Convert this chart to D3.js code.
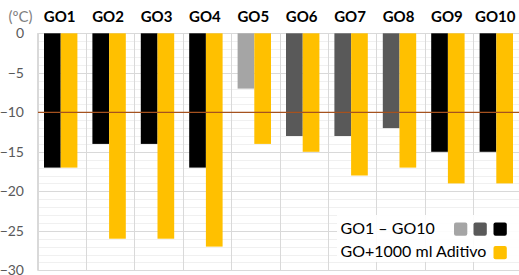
<!DOCTYPE html>
<html>
<head>
<meta charset="utf-8">
<script src="https://cdn.jsdelivr.net/npm/d3@7"></script>
<style>
  html, body { margin: 0; padding: 0; background: #fff; }
  svg { display: block; }
  text { font-family: Lato, "Open Sans", sans-serif; }
</style>
</head>
<body>
<script>
const categories = ["GO1","GO2","GO3","GO4","GO5","GO6","GO7","GO8","GO9","GO10"];
const baseValues = [-17,-14,-14,-17,-7,-13,-13,-12,-15,-15];
const baseShade  = ["black","black","black","black","light","dark","dark","dark","black","black"];
const additiveValues = [-17,-26,-26,-27,-14,-15,-18,-17,-19,-19];
const yTicks = [0,-5,-10,-15,-20,-25,-30];
const refLine = -10;
const legendLabels = ["GO1 \u2013 GO10", "GO+1000 ml Aditivo"];
const unitLabel = "(\u00BAC)";

const W = 519, H = 275;
const shadeColor = { light: "#a5a5a5", dark: "#595959", black: "#000000" };
const yellow = "#ffc000";

const svg = d3.select("body").append("svg").attr("width", W).attr("height", H);

const x0 = d3.scaleBand().domain(categories).range([37.5, 521.5]).paddingInner(0).paddingOuter(0);
const x1 = d3.scaleBand().domain(["base","add"]).range([6.5, 39.9]);
const y = d3.scaleLinear().domain([0, -30]).range([33.3, 270.3]);

// minor gridlines
const minor = d3.range(0, -31, -1).filter(v => v % 5 !== 0);
svg.append("g").selectAll("line").data(minor).join("line")
  .attr("x1", 37.5).attr("x2", W)
  .attr("y1", d => Math.round(y(d)) + 0.5).attr("y2", d => Math.round(y(d)) + 0.5)
  .attr("stroke", "#f0f0f0").attr("stroke-width", 1);

// major gridlines
svg.append("g").selectAll("line").data(yTicks).join("line")
  .attr("x1", 37.5).attr("x2", W)
  .attr("y1", d => Math.round(y(d)) + 0.5).attr("y2", d => Math.round(y(d)) + 0.5)
  .attr("stroke", "#d9d9d9").attr("stroke-width", 1);

// vertical gridlines
svg.append("g").selectAll("line").data(categories).join("line")
  .attr("x1", d => Math.round(x0(d)) + 0.5).attr("x2", d => Math.round(x0(d)) + 0.5)
  .attr("y1", y(0)).attr("y2", y(-30))
  .attr("stroke", "#d9d9d9").attr("stroke-width", 1);

// bars
const groups = svg.append("g").selectAll("g").data(categories).join("g")
  .attr("transform", d => `translate(${x0(d)},0)`);
groups.append("rect")
  .attr("x", x1("base")).attr("width", x1.bandwidth())
  .attr("y", y(0))
  .attr("height", (d, i) => y(baseValues[i]) - y(0))
  .attr("fill", (d, i) => shadeColor[baseShade[i]]);
groups.append("rect")
  .attr("x", x1("add")).attr("width", x1.bandwidth())
  .attr("y", y(0))
  .attr("height", (d, i) => y(additiveValues[i]) - y(0))
  .attr("fill", yellow);

// reference line
svg.append("line")
  .attr("x1", 37.5).attr("x2", W)
  .attr("y1", y(refLine)).attr("y2", y(refLine))
  .attr("stroke", "#a5521f").attr("stroke-width", 1.3);

// y axis
const yAxis = d3.axisLeft(y).tickValues(yTicks).tickSize(0).tickPadding(0).tickFormat(d3.format("d"));
const ya = svg.append("g").attr("transform", "translate(24,0)").call(yAxis);
ya.select(".domain").remove();
ya.selectAll("text").attr("font-size", 14).attr("fill", "#595959")
  .style("font-family", "Lato, 'Open Sans', sans-serif");
svg.append("line").attr("x1", 37.5).attr("x2", 37.5).attr("y1", y(0)).attr("y2", y(-30))
  .attr("stroke", "#d9d9d9");

// unit
svg.append("text").attr("x", 20.5).attr("y", 22).attr("text-anchor", "middle")
  .attr("font-size", 15).attr("fill", "#7f7f7f").text(unitLabel);

// category labels on top
svg.append("g").selectAll("text").data(categories).join("text")
  .attr("x", d => x0(d) + 23.2 - 1)
  .attr("y", 21.5)
  .attr("text-anchor", "middle")
  .attr("font-size", 15).attr("font-weight", "bold").attr("fill", "#000")
  .text(d => d);

// legend
const lg = svg.append("g");
lg.append("rect").attr("x", 337).attr("y", 215).attr("width", 182).attr("height", 47)
  .attr("fill", "#fff").attr("fill-opacity", 0.92);
lg.append("text").attr("x", 340.5).attr("y", 234).attr("font-size", 16).attr("fill", "#000")
  .text(legendLabels[0]);
lg.append("text").attr("x", 340.5).attr("y", 257).attr("font-size", 16).attr("fill", "#000")
  .text(legendLabels[1]);
const sw = [["light",454],["dark",473.5],["black",493.5]];
lg.selectAll("rect.sw").data(sw).join("rect").attr("class","sw")
  .attr("x", d => d[1]).attr("y", 222.5).attr("width", 13.3).attr("height", 13.3)
  .attr("rx", 2).attr("fill", d => shadeColor[d[0]]);
lg.append("rect").attr("x", 493.5).attr("y", 246).attr("width", 13.3).attr("height", 13.3)
  .attr("rx", 2).attr("fill", yellow);
</script>
</body>
</html>
